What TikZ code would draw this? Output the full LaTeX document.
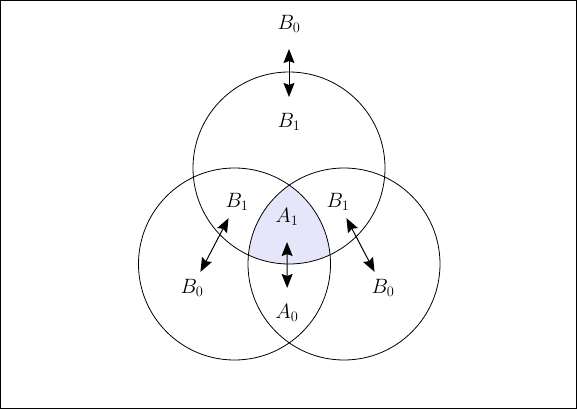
\documentclass[tikz,border=0pt]{standalone}
\usepackage{amsmath}
\usepackage{tikz}
\usetikzlibrary{arrows.meta}
\definecolor{lavregion}{RGB}{230,230,250}

\begin{document}
\begin{tikzpicture}[x=1pt,y=-1pt,line width=0.8pt,
  lbl/.style={font=\fontsize{21}{24}\selectfont,inner sep=0pt},
  dbl/.style={line width=1pt,{Stealth[length=14pt,width=11pt,inset=2pt]}-{Stealth[length=14pt,width=11pt,inset=2pt]},shorten <=16pt,shorten >=16pt},
  diag/.style={shorten <=8pt,shorten >=8pt}]

\useasboundingbox (0,0) rectangle (577,409);
\draw [line width=1pt] (0.5,0.5) rectangle (576.5,408.5);

\begin{scope}
\clip (289,168) circle (96);
\clip (234.5,264) circle (96);
\fill [lavregion] (344,264) circle (96);
\end{scope}

\draw (289,168) circle (96);
\draw (234.5,264) circle (96);
\draw (344,264) circle (96);

\node [lbl] (tB0) at (289,24) {$B_0$};
\node [lbl] (tB1) at (289,122) {$B_1$};
\node [lbl] (lB1) at (237,202) {$B_1$};
\node [lbl] (lB0) at (192,288) {$B_0$};
\node [lbl] (rB1) at (338,202) {$B_1$};
\node [lbl] (rB0) at (383,288) {$B_0$};
\node [lbl] (A1) at (287,217) {$A_1$};
\node [lbl] (A0) at (287,313) {$A_0$};

\draw [dbl] (tB0) -- (tB1);
\draw [dbl,diag] (lB1) -- (lB0);
\draw [dbl,diag] (rB1) -- (rB0);
\draw [dbl] ([xshift=2pt]A1) -- ([xshift=2pt]A0);

\end{tikzpicture}
\end{document}
